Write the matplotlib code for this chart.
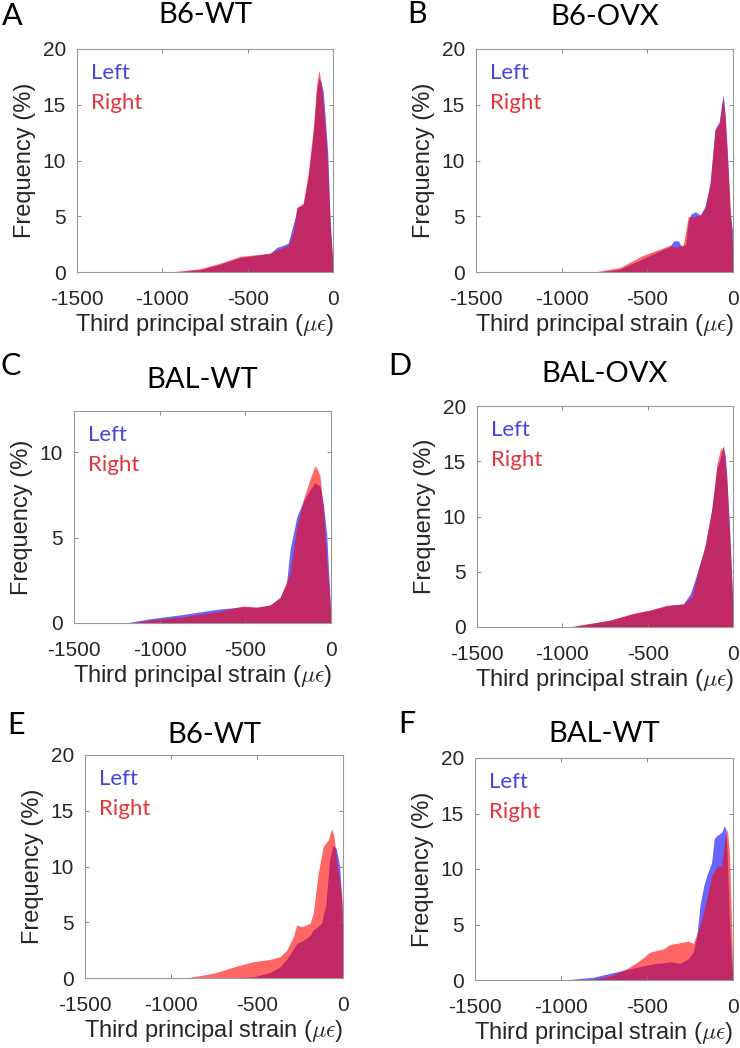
import matplotlib
matplotlib.use("Agg")
import matplotlib.pyplot as plt

plt.rcParams['font.family'] = ['Liberation Sans', 'DejaVu Sans']
plt.rcParams['mathtext.fontset'] = 'cm'
plt.rcParams['axes.unicode_minus'] = False

# ---- data (strain in micro-strain, frequency in %) ----
a_left_x = [-930, -780, -660, -545, -450, -370, -330, -290, -262, -240, -225, -209, -175, -145, -115, -96, -82, -70, -57, -44, -31, -18, -8, -3, 0]
a_left_y = [0, 0.2, 0.7, 1.3, 1.5, 1.65, 2.2, 2.4, 2.6, 3.9, 4.7, 5.8, 6.0, 8.5, 12.5, 16.3, 17.4, 17.0, 16.2, 13.5, 10.8, 5.0, 2.4, 1.2, 0]
a_right_x = [-950, -780, -660, -545, -450, -370, -310, -262, -232, -212, -200, -174, -145, -115, -96, -82, -70, -60, -47, -35, -27, -14, -4, 0]
a_right_y = [0, 0.3, 0.8, 1.4, 1.55, 1.7, 2.1, 2.4, 3.6, 5.8, 5.9, 6.2, 8.9, 13.0, 16.8, 18.1, 17.0, 15.5, 13.2, 10.5, 8.0, 3.5, 1.8, 0]

b_left_x = [-790, -660, -524, -426, -368, -345, -320, -300, -275, -262, -245, -220, -190, -163, -134, -105, -80, -65, -57, -45, -30, -18, -6, -2, 0]
b_left_y = [0, 0.25, 1.2, 1.9, 2.3, 2.8, 2.8, 2.3, 2.5, 4.5, 5.2, 5.4, 5.1, 5.9, 8.0, 12.8, 13.5, 15.2, 15.9, 14.0, 10.0, 5.5, 4.0, 3.8, 0]
b_right_x = [-815, -660, -524, -426, -368, -339, -290, -261, -232, -193, -163, -134, -105, -80, -65, -57, -45, -37, -18, -4, 0]
b_right_y = [0, 0.4, 1.5, 2.05, 2.4, 2.25, 2.4, 5.0, 4.95, 5.1, 5.7, 7.8, 12.7, 13.3, 15.0, 15.7, 13.5, 11.4, 6.3, 2.4, 0]

c_left_x = [-1200, -1057, -862, -667, -512, -434, -356, -298, -260, -239, -200, -162, -123, -93, -64, -45, -25, -6, 0]
c_left_y = [0, 0.25, 0.5, 0.8, 0.95, 0.92, 1.05, 1.5, 2.3, 4.3, 6.2, 7.1, 7.8, 8.2, 8.0, 7.0, 5.2, 1.5, 0]
c_right_x = [-1180, -1057, -862, -667, -512, -434, -356, -298, -239, -200, -162, -123, -93, -80, -64, -45, -25, -6, 0]
c_right_y = [0, 0.18, 0.37, 0.66, 1.0, 0.92, 1.05, 1.45, 2.9, 5.6, 7.2, 8.4, 9.2, 9.0, 8.6, 6.6, 3.7, 1.3, 0]

d_left_x = [-950, -896, -721, -584, -486, -388, -291, -250, -212, -164, -125, -95, -76, -57, -45, -37, -18, -2, 0]
d_left_y = [0, 0.15, 0.6, 1.2, 1.5, 1.95, 2.1, 3.0, 4.8, 7.3, 10.6, 14.3, 15.2, 16.4, 15.5, 13.8, 8.2, 2.5, 0]
d_right_x = [-960, -896, -721, -584, -486, -388, -291, -242, -203, -164, -125, -95, -76, -57, -37, -18, -2, 0]
d_right_y = [0, 0.18, 0.63, 1.24, 1.55, 1.93, 2.08, 2.7, 5.2, 7.3, 10.6, 14.6, 16.0, 16.3, 13.6, 7.9, 2.4, 0]

e_left_x = [-650, -521, -424, -366, -327, -289, -269, -240, -192, -173, -125, -112, -101, -78, -58, -39, -19, -4, 0]
e_left_y = [0, 0.1, 0.5, 1.0, 1.7, 2.6, 3.1, 3.3, 3.8, 4.3, 4.9, 5.8, 6.4, 10.6, 11.9, 11.6, 10.0, 6.0, 0]
e_right_x = [-940, -890, -754, -618, -521, -424, -366, -327, -289, -269, -240, -192, -173, -144, -115, -85, -66, -52, -37, -17, -6, -2, 0]
e_right_y = [0, 0.06, 0.42, 1.07, 1.46, 1.67, 1.91, 2.5, 3.7, 4.75, 4.6, 4.9, 5.8, 9.4, 11.8, 12.4, 13.4, 12.7, 10.6, 8.5, 7.2, 4.0, 0]

f_left_x = [-1005, -950, -812, -715, -618, -541, -483, -444, -405, -366, -308, -260, -231, -210, -192, -170, -153, -124, -110, -95, -66, -50, -40, -33, -21, -10, -2, 0]
f_left_y = [0, 0.05, 0.25, 0.6, 0.95, 1.2, 1.4, 1.5, 1.55, 1.65, 1.5, 1.9, 2.5, 4.0, 6.7, 8.5, 9.4, 10.6, 12.7, 13.0, 13.3, 13.9, 13.5, 10.9, 5.5, 2.0, 0.5, 0]
f_right_x = [-830, -715, -618, -541, -483, -444, -405, -366, -308, -260, -231, -192, -153, -124, -95, -66, -47, -33, -21, -10, -2, 0]
f_right_y = [0, 0.36, 1.0, 1.77, 2.5, 2.67, 2.8, 3.2, 3.36, 3.5, 3.3, 4.9, 7.3, 9.4, 10.2, 10.3, 12.7, 13.6, 11.5, 6.1, 1.35, 0]

titles = ['B6-WT', 'B6-OVX', 'BAL-WT', 'BAL-OVX', 'B6-WT', 'BAL-WT']
letters = ['A', 'B', 'C', 'D', 'E', 'F']
y_tops = [20, 20, 12.4, 20, 20, 20]
x_ticks = [-1500, -1000, -500, 0]

series = [
    (a_left_x, a_left_y, a_right_x, a_right_y),
    (b_left_x, b_left_y, b_right_x, b_right_y),
    (c_left_x, c_left_y, c_right_x, c_right_y),
    (d_left_x, d_left_y, d_right_x, d_right_y),
    (e_left_x, e_left_y, e_right_x, e_right_y),
    (f_left_x, f_left_y, f_right_x, f_right_y),
]

W, H = 740, 1048
# axes boxes in pixels: left, right, top, bottom
boxes = [(77, 333, 49, 272), (476, 733, 49, 272),
         (74, 331, 411, 623), (477, 733, 406, 627),
         (85, 343, 755, 978), (475, 733, 758, 980)]
title_y = [15, 17, 380, 374, 735, 734]
letter_pos = [(2, 16), (407, 14), (1, 366), (388, 366), (7, 725), (398, 724)]

blue = (0.0, 0.0, 1.0)
red = (1.0, 0.0, 0.0)
label_font = ['Lato', 'DejaVu Sans']

fig = plt.figure(figsize=(W / 100, H / 100), dpi=100)

for i in range(6):
    l, r, t, b = boxes[i]
    ax = fig.add_axes([l / W, 1 - b / H, (r - l) / W, (b - t) / H])
    lx, ly, rx, ry = series[i]
    ax.fill_between(lx, ly, 0, color=blue, alpha=0.6, lw=0)
    ax.fill_between(rx, ry, 0, color=red, alpha=0.6, lw=0)
    ax.set_xlim(-1500, 0)
    ax.set_ylim(0, y_tops[i])
    ax.set_xticks(x_ticks)
    ax.set_yticks([0, 5, 10] if y_tops[i] < 15 else [0, 5, 10, 15, 20])
    ax.tick_params(direction='in', length=3, width=0.6, color='#777777',
                   top=True, right=True, labelsize=15, labelcolor='#262626')
    ax.tick_params(axis='x', pad=13)
    ax.tick_params(axis='y', pad=8)
    for sp in ax.spines.values():
        sp.set_color('#999999')
        sp.set_linewidth(0.8)
    ax.set_ylabel('Frequency (%)', fontsize=17, color='#262626', labelpad=5)
    ax.set_xlabel(r'Third principal strain ($\mu\epsilon$)', fontsize=17,
                  color='#262626', labelpad=2)
    ax.annotate('Left', xy=(0, 1), xycoords='axes fraction', xytext=(10, -17.5),
                textcoords='offset points', va='center', ha='left',
                fontsize=16, color='#4646dc', family=label_font)
    ax.annotate('Right', xy=(0, 1), xycoords='axes fraction', xytext=(10, -39),
                textcoords='offset points', va='center', ha='left',
                fontsize=16, color='#e6333a', family=label_font)
    fig.text((l + r) / 2 / W, 1 - title_y[i] / H, titles[i], ha='center', va='center',
             fontsize=21, family=label_font, color='black')
    lx0, ly0 = letter_pos[i]
    fig.text(lx0 / W, 1 - ly0 / H, letters[i], ha='left', va='center',
             fontsize=22, family=label_font, color='black')

fig.savefig('out.png', dpi=100)
